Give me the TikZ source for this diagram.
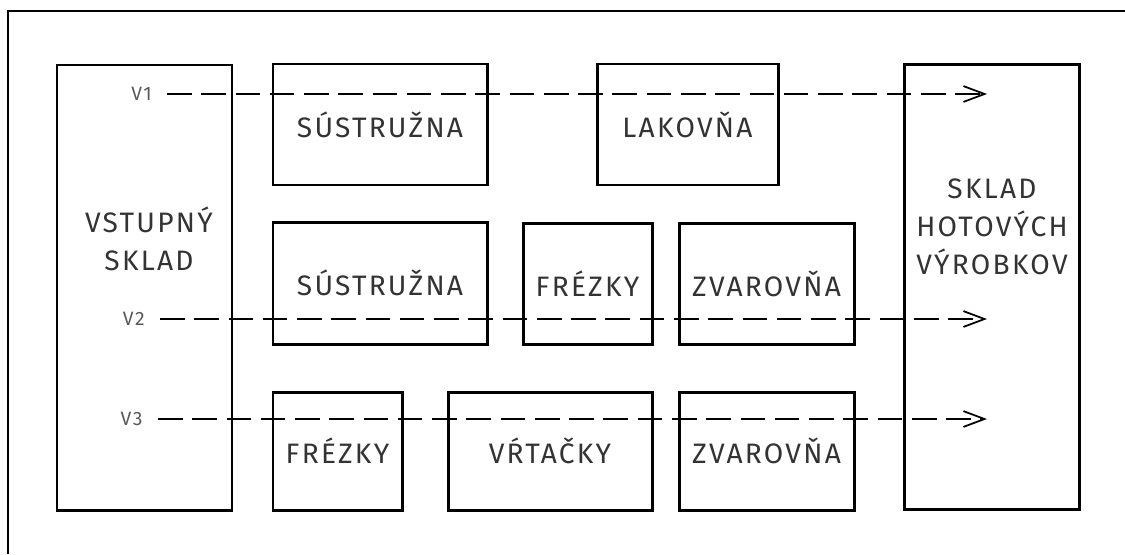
\documentclass[tikz,border=0pt]{standalone}
\usepackage{fontspec}
\setmainfont{Fira Sans}[LetterSpace=8]
\usetikzlibrary{arrows.meta,positioning}

\tikzset{
	dept/.style={draw, line width=1.7pt, inner sep=0pt, text=black!80,
		font=\fontsize{16}{21.5}\selectfont},
	store/.style={draw, line width=1.7pt, minimum width=3.5cm, minimum height=8.9cm},
	storetext/.style={align=center, text=black!80, font=\fontsize{16}{21.5}\selectfont},
	vlab/.style={anchor=east, inner xsep=0.3cm, inner ysep=0pt, text=black!65,
		font=\fontsize{11}{13}\selectfont},
	flow/.style={line width=1pt, dash pattern=on 14pt off 5.5pt,
		-{Straight Barb[length=12pt,width=9pt,line width=1pt]}}
}

\begin{document}
\begin{tikzpicture}
			%%%%% START %%%%%
			\useasboundingbox (0, 0) rectangle (22.5, -11.08);
			
			\draw[line width=1.1pt] (0.16, -11.08) -- (0.16, -0.22) -- (22.5, -0.22);
			
			% sklady
			\node[store] (vstup) at (2.89, -5.75) {};
			\node[storetext] (vstuptext) at (2.98, -4.78) {VSTUPNÝ\\SKLAD};
			\node[store] (hotove) at (19.84, -5.74) {};
			\node[storetext] (hotovetext) at (19.84, -4.54) {SKLAD\\HOTOVÝCH\\VÝROBKOV};
			
			% prvy rad
			\node[dept, minimum width=4.28cm, minimum height=2.42cm] (sus1) at (7.6, -2.49) {SÚSTRUŽNA};
			\node[dept, minimum width=3.62cm, minimum height=2.42cm] (lak1) at (13.75, -2.49) {LAKOVŇA};
			
			% druhy rad
			\node[dept, minimum width=4.28cm, minimum height=2.44cm] (sus2) at (7.6, -5.66) {SÚSTRUŽNA};
			\node[dept, minimum width=2.58cm, minimum height=2.42cm] (fre2) at (11.75, -5.67) {FRÉZKY};
			\node[dept, minimum width=3.5cm, minimum height=2.42cm] (zva2) at (15.33, -5.67) {ZVAROVŇA};
			
			% treti rad
			\node[dept, minimum width=2.58cm, minimum height=2.36cm] (fre3) at (6.75, -9.02) {FRÉZKY};
			\node[dept, minimum width=4.08cm, minimum height=2.36cm] (vrt3) at (11.0, -9.02) {VŔTAČKY};
			\node[dept, minimum width=3.5cm, minimum height=2.36cm] (zva3) at (15.33, -9.02) {ZVAROVŇA};
			
			% toky
			\node[vlab] (v1) at (3.34, -1.88) {V1};
			\node[vlab] (v2) at (3.2, -6.38) {V2};
			\node[vlab] (v3) at (3.16, -8.38) {V3};
			\coordinate (e1) at (19.74, -1.88);
			\coordinate (e2) at (19.74, -6.38);
			\coordinate (e3) at (19.74, -8.38);
			
			\draw[flow] (v1.east) -- (e1);
			\draw[flow] (v2.east) -- (e2);
			\draw[flow] (v3.east) -- (e3);
			%%%%% END %%%%%
\end{tikzpicture}
\end{document}
